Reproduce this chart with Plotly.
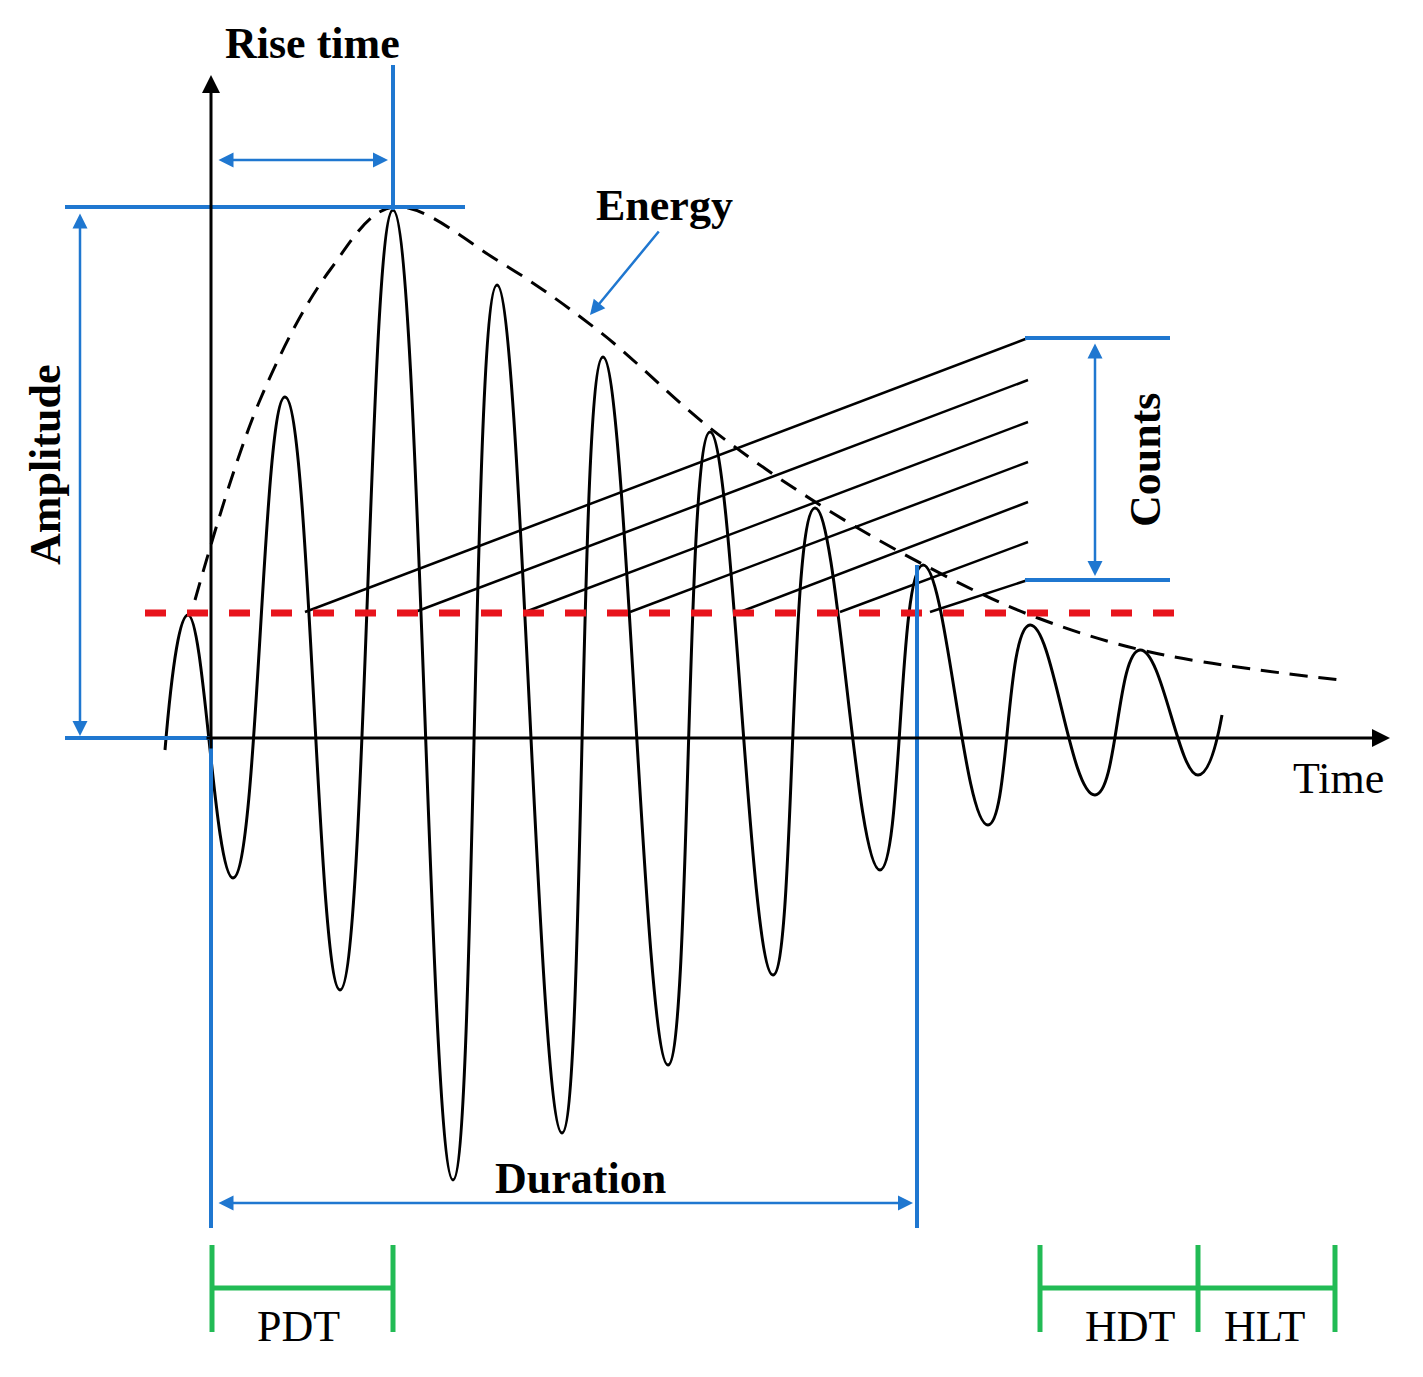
import plotly.graph_objects as go

# waveform extrema (image pixel coordinates, y downward)
wave_x = [165, 188, 233, 285, 340, 393, 453, 497, 562, 603, 668, 710, 773, 815, 880, 923, 988, 1030, 1095, 1140, 1198, 1222]
wave_y = [750, 615, 878, 397, 990, 210, 1180, 285, 1133, 357, 1065, 432, 975, 508, 870, 565, 825, 625, 795, 650, 775, 715]

env_x = [195, 260, 330, 393, 500, 600, 710, 820, 930, 1030, 1150, 1340]
env_y = [600, 400, 270, 207, 262, 332, 428, 505, 568, 615, 652, 680]

count_start_x = [305, 415, 525, 630, 740, 840, 930]
count_end_y = [338, 380, 422, 462, 502, 542, 580]

BLUE = "#1f77d0"
GREEN = "#22bb55"
FONT = "Liberation Serif"

fig = go.Figure()
fig.add_trace(go.Scatter(x=env_x, y=env_y, mode="lines", line=dict(color="black", width=3, dash="18px,11px", shape="spline")))
fig.add_trace(go.Scatter(x=wave_x, y=wave_y, mode="lines", line=dict(color="black", width=3, shape="spline", smoothing=1.3)))
for sx, ey in zip(count_start_x, count_end_y):
    fig.add_trace(go.Scatter(x=[sx, 1028], y=[612, ey], mode="lines", line=dict(color="black", width=2.5)))
fig.add_trace(go.Scatter(x=[145, 1190], y=[613, 613], mode="lines", line=dict(color="#e8141c", width=7, dash="dash")))

shapes = []
def seg(x0, y0, x1, y1, color, w=4):
    shapes.append(dict(type="line", x0=x0, y0=y0, x1=x1, y1=y1, line=dict(color=color, width=w)))

seg(393, 65, 393, 210, BLUE)
seg(65, 207, 465, 207, BLUE)
seg(65, 738, 212, 738, BLUE)
seg(211, 738, 211, 1228, BLUE)
seg(917, 565, 917, 1228, BLUE)
seg(1025, 338, 1170, 338, BLUE)
seg(1025, 580, 1170, 580, BLUE)
# green brackets
seg(212, 1288, 393, 1288, GREEN, 5)
seg(1040, 1288, 1335, 1288, GREEN, 5)
for gx in [212, 393, 1040, 1198, 1335]:
    seg(gx, 1245, gx, 1332, GREEN, 5)

anns = []
def arrow(x0, y0, x1, y1, color, both=False, w=2.5, head=2):
    anns.append(dict(x=x1, y=y1, ax=x0, ay=y0, xref="x", yref="y", axref="x", ayref="y",
                     showarrow=True, arrowhead=head, arrowsize=1.2, arrowwidth=w, arrowcolor=color,
                     arrowside="end+start" if both else "end", startarrowhead=head, startarrowsize=1.2, text=""))

arrow(211, 750, 211, 75, "black", w=3)
arrow(205, 738, 1390, 738, "black", w=3)
arrow(80, 212, 80, 736, BLUE, both=True)
arrow(217, 160, 388, 160, BLUE, both=True)
arrow(217, 1203, 913, 1203, BLUE, both=True)
arrow(1095, 342, 1095, 576, BLUE, both=True)
arrow(660, 230, 590, 315, BLUE)

def label(x, y, t, bold=False, size=44, angle=0):
    anns.append(dict(x=x, y=y, xref="x", yref="y", text=f"<b>{t}</b>" if bold else t, showarrow=False,
                     textangle=angle, font=dict(family=FONT, size=size, color="black")))

label(312, 43, "Rise time", True)
label(664, 205, "Energy", True)
label(45, 465, "Amplitude", True, angle=-90)
label(1145, 460, "Counts", True, angle=-90)
label(1338, 778, "Time")
label(580, 1178, "Duration", True)
label(298, 1326, "PDT")
label(1130, 1326, "HDT")
label(1265, 1326, "HLT")

fig.update_layout(width=1423, height=1377, margin=dict(l=0, r=0, t=0, b=0),
                  plot_bgcolor="white", paper_bgcolor="white", showlegend=False,
                  shapes=shapes, annotations=anns,
                  xaxis=dict(range=[8, 1431], visible=False, fixedrange=True),
                  yaxis=dict(range=[1385, 8], visible=False, fixedrange=True))
fig.write_html("out.html")
